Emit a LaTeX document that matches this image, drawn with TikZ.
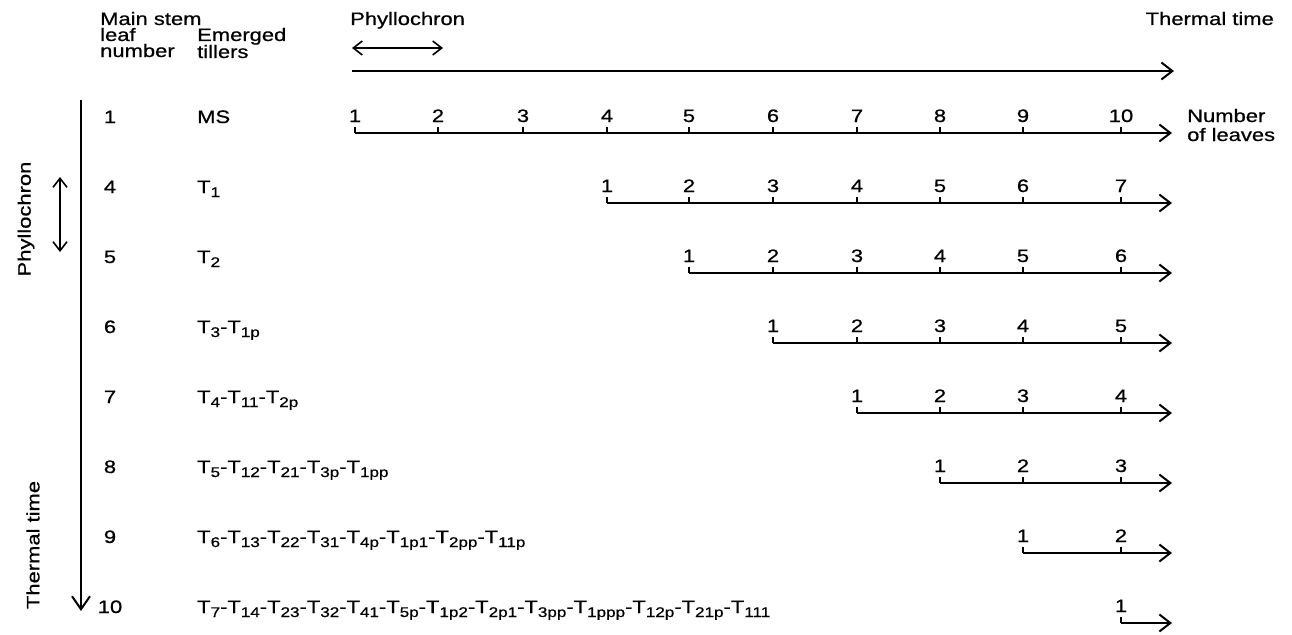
\documentclass[tikz,border=0pt]{standalone}
\usepackage{fontspec}
\setmainfont{Liberation Sans}[FakeStretch=1.22,FakeBold=0.7]
\usetikzlibrary{arrows.meta}
\newcommand\Tx[1]{T\raisebox{-4pt}{\fontsize{14}{14}\selectfont #1}}
\begin{document}
\begin{tikzpicture}[x=1pt,y=-1pt,
  txt/.style={font=\fontsize{18}{14}\selectfont, inner sep=0pt},
  axis/.style={line width=2pt, -{Straight Barb[length=11pt,width=17pt,line width=2pt]}},
  dbl/.style={line width=1.6pt, {Straight Barb[length=9pt,width=14pt,line width=1.6pt]}-{Straight Barb[length=9pt,width=14pt,line width=1.6pt]}},
  tick/.style={line width=1.6pt}]
\useasboundingbox (0,0) rectangle (1292,634);
% header
\node[txt, anchor=base west] (h1) at (100,25) {Main stem};
\node[txt, anchor=base west] (h2) at (100,41) {leaf};
\node[txt, anchor=base west] (h3) at (100,57) {number};
\node[txt, anchor=base west] (h4) at (197,41) {Emerged};
\node[txt, anchor=base west] (h5) at (197,58) {tillers};
\node[txt, anchor=base west] (ph) at (350,25) {Phyllochron};
\node[txt, anchor=base east] (tt) at (1274,25) {Thermal time};
% phyllochron horizontal arrow
\coordinate (pa) at (352,48); \coordinate (pb) at (443,48);
\draw[dbl] (pa) -- (pb);
% thermal time axis
\coordinate (ta) at (352,71); \coordinate (tb) at (1174,71);
\draw[axis] (ta) -- (tb);
% left vertical axis
\coordinate (va) at (81,100); \coordinate (vb) at (81,611);
\draw[line width=2pt, -{Straight Barb[length=13pt,width=18pt,line width=2pt]}] (va) -- (vb);
\coordinate (pva) at (60,177); \coordinate (pvb) at (60,252);
\draw[dbl] (pva) -- (pvb);
\node[txt, rotate=90] (vph) at (26,219) {Phyllochron};
\node[txt, rotate=90] (vtt) at (33,545) {Thermal time};
% right label
\node[txt, anchor=base west] (nl1) at (1187,122) {Number};
\node[txt, anchor=base west] (nl2) at (1187,141) {of leaves};
% rows
\def\xs{{355,438,523,607,689,773,857,940,1023,1121}}
\foreach \lead/\s/\Y/\till [count=\r] in {
  1/1/133/{MS},
  4/4/203/{\Tx{1}},
  5/5/273/{\Tx{2}},
  6/6/343/{\Tx{3}-\Tx{1p}},
  7/7/413/{\Tx{4}-\Tx{11}-\Tx{2p}},
  8/8/483/{\Tx{5}-\Tx{12}-\Tx{21}-\Tx{3p}-\Tx{1pp}},
  9/9/553/{\Tx{6}-\Tx{13}-\Tx{22}-\Tx{31}-\Tx{4p}-\Tx{1p1}-\Tx{2pp}-\Tx{11p}},
  10/10/623/{\Tx{7}-\Tx{14}-\Tx{23}-\Tx{32}-\Tx{41}-\Tx{5p}-\Tx{1p2}-\Tx{2p1}-\Tx{3pp}-\Tx{1ppp}-\Tx{12p}-\Tx{21p}-\Tx{111}}}{
  \node[txt, anchor=base] (lead\r) at (110,\Y-10) {\lead};
  \node[txt, anchor=base west] (till\r) at (197,\Y-10) {\till};
  \pgfmathsetmacro\xstart{\xs[\s-1]}
  \coordinate (rs\r) at (\xstart,\Y);
  \coordinate (re\r) at (1172,\Y);
  \draw[axis] (rs\r) -- (re\r);
  \foreach \k in {\s,...,10}{
    \pgfmathsetmacro\xk{\xs[\k-1]}
    \pgfmathtruncatemacro\n{\k-\s+1}
    \draw[tick] (\xk,\Y) -- (\xk,\Y-6);
    \node[txt, anchor=base] (t\r-\k) at (\xk,\Y-11) {\n};
  }
}
\end{tikzpicture}
\end{document}
